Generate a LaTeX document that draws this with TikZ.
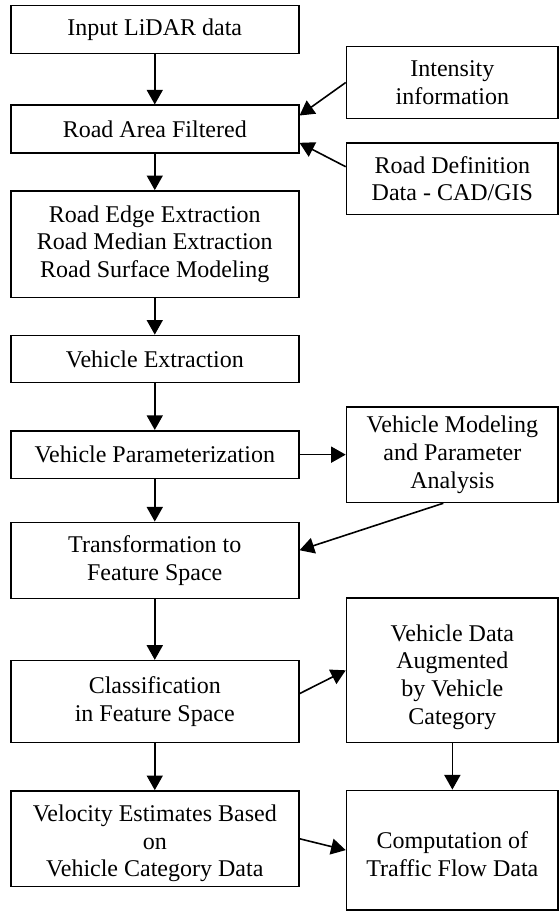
\documentclass[tikz,border=0pt]{standalone}
\usepackage{fontspec}
\setmainfont{Liberation Serif}
\usepackage{tikz}
\usetikzlibrary{arrows.meta}

\begin{document}
\begin{tikzpicture}[
    >={Triangle[length=7.3pt,width=8pt]},
    block/.style={
        draw,
        rectangle,
        minimum width=5.06cm,
        inner sep=0pt,
        align=center,
        font=\fontsize{12}{13.9}\selectfont,
        line width=0.8pt
    },
    side/.style={block, minimum width=3.72cm},
    arrow/.style={->, line width=0.8pt}
]
\useasboundingbox (0,0) rectangle (9.84,-16.01);

\node[block, minimum height=0.84cm] (input) at (2.72,-0.52) {Input LiDAR data};
\node[block, minimum height=0.84cm] (area) at (2.72,-2.27) {Road Area Filtered};
\node[block, minimum height=1.87cm] (edge) at (2.72,-4.29) {Road Edge Extraction\\Road Median Extraction\\Road Surface Modeling};
\node[block, minimum height=0.83cm] (vext) at (2.72,-6.31) {Vehicle Extraction};
\node[block, minimum height=0.84cm] (vpar) at (2.72,-7.99) {Vehicle Parameterization};
\node[block, minimum height=1.34cm] (feat) at (2.72,-9.85) {Transformation to\\Feature Space};
\node[block, minimum height=1.44cm] (cls) at (2.72,-12.33) {Classification\\in Feature Space};
\node[block, minimum height=1.68cm] (vel) at (2.72,-14.74) {\rule{0pt}{13pt}Velocity Estimates Based\\on\\Vehicle Category Data};

\node[side, minimum height=1.27cm] (inten) at (7.95,-1.45) {Intensity\\information};
\node[side, minimum height=1.26cm] (roaddef) at (7.95,-3.14) {Road Definition\\Data - CAD/GIS};
\node[side, minimum height=1.68cm] (vmod) at (7.95,-7.99) {Vehicle Modeling\\and Parameter\\Analysis};
\node[side, minimum height=2.54cm] (vdata) at (7.95,-11.78) {\rule{0pt}{15pt}Vehicle Data\\Augmented\\by Vehicle\\Category};
\node[side, minimum height=2.10cm] (flow) at (7.95,-14.94) {\rule{0pt}{12.5pt}Computation of\\Traffic Flow Data};

\draw[arrow] (input) -- (area);
\draw[arrow] (area) -- (edge);
\draw[arrow] (edge) -- (vext);
\draw[arrow] (vext) -- (vpar);
\draw[arrow] (vpar) -- (feat);
\draw[arrow] (feat) -- (cls);
\draw[arrow] (cls) -- (vel);
\draw[arrow] (vdata) -- (flow);

\draw[arrow] (inten.west) -- ([yshift=0.24cm]area.east);
\draw[arrow] ([yshift=0.21cm]roaddef.west) -- ([yshift=-0.24cm]area.east);
\draw[arrow] (vpar) -- (vmod);
\draw[arrow] ([xshift=-0.16cm]vmod.south) -- ([yshift=0.18cm]feat.east);
\draw[arrow] ([yshift=0.14cm]cls.east) -- (vdata.west);
\draw[arrow] (vel.east) -- (flow.west);

\end{tikzpicture}
\end{document}
